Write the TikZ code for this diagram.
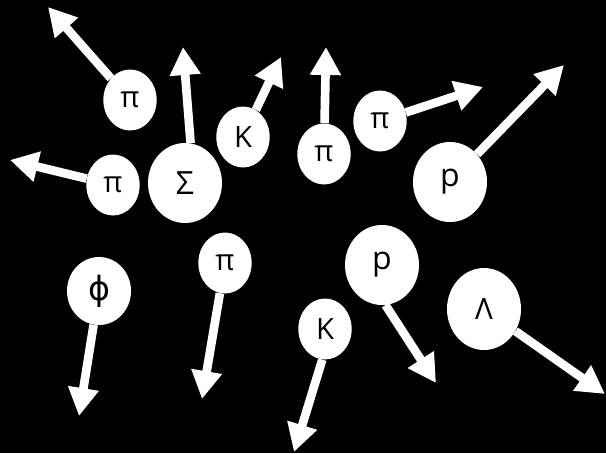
\documentclass[tikz,border=0pt]{standalone}
\usepackage{fontspec}
\setmainfont{Open Sans}
\newfontfamily\phifont{DejaVu Sans}
\usetikzlibrary{shapes.geometric,arrows.meta}
\begin{document}
\begin{tikzpicture}[x=0.75pt,y=-0.75pt,
  part/.style={ellipse,fill=white,inner sep=0pt,text=black,font=\fontsize{22}{26}\selectfont},
  smallp/.style={part,minimum width=40pt,minimum height=45.75pt},
  bigp/.style={part,minimum width=55.5pt,minimum height=60pt},
  arr/.style={draw=white,line width=6.5pt,-{Triangle[length=21pt,width=22pt]}}]
\fill[black] (0,0) rectangle (606,453);
\useasboundingbox (0,0) rectangle (606,453);
% nodes
\node[smallp] (pa) at (130,100) {π};
\node[smallp] (pb) at (113,185) {π};
\node[bigp,font=\fontsize{24}{28}\selectfont] (sg) at (185,183) {Σ};
\node[smallp] (ka) at (243,137) {K};
\node[smallp] (pc) at (324,154) {π};
\node[smallp] (pd) at (380,121) {π};
\node[bigp,font=\fontsize{24}{28}\selectfont] (pr) at (450,182) {p};
\node[part,minimum width=48pt,minimum height=51pt,font=\phifont\fontsize{25}{30}\selectfont] (ph) at (99,291) {ϕ};
\node[smallp] (pe) at (225,263) {π};
\node[smallp] (kb) at (325,329) {K};
\node[bigp,font=\fontsize{24}{28}\selectfont] (pq) at (382,265) {p};
\node[bigp,minimum height=61.5pt] (la) at (484,309) {Λ};
% arrow tips
\coordinate (ta) at (48,7);
\coordinate (tb) at (10,160);
\coordinate (tsg) at (183,47);
\coordinate (tka) at (281,57);
\coordinate (tpc) at (326,47);
\coordinate (tpd) at (483,87);
\coordinate (tpr) at (564,65);
\coordinate (tph) at (79,416);
\coordinate (tpe) at (202,399);
\coordinate (tkb) at (294,452);
\coordinate (tpq) at (436,383);
\coordinate (tla) at (605,394);
% arrows
\draw[arr] (pa) -- (ta);
\draw[arr] (pb) -- (tb);
\draw[arr] (sg.82) -- (tsg);
\draw[arr] (ka) -- (tka);
\draw[arr] (pc) -- (tpc);
\draw[arr] (pd) -- (tpd);
\draw[arr] (pr) -- (tpr);
\draw[arr] (ph) -- (tph);
\draw[arr] (pe) -- (tpe);
\draw[arr] (kb.-95) -- (tkb);
\draw[arr] (pq.-85) -- (tpq);
\draw[arr] (la) -- (tla);
\end{tikzpicture}
\end{document}
